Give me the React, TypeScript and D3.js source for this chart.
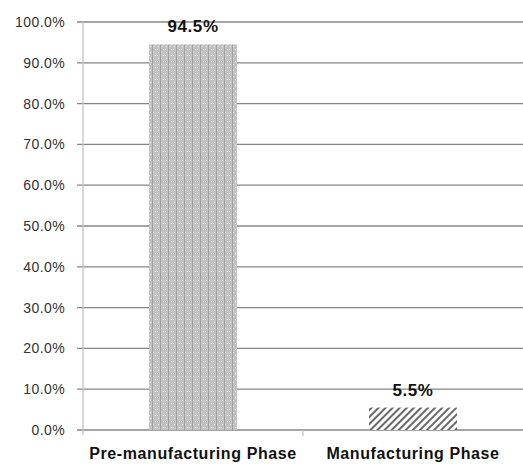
import React from "react";
import * as d3 from "d3";

const categories = ["Pre-manufacturing Phase", "Manufacturing Phase"];
const shares = [94.5, 5.5];
const yTicks = [0, 10, 20, 30, 40, 50, 60, 70, 80, 90, 100];

const W = 523;
const H = 464;
const margin = { left: 83, right: 0, top: 22, bottom: 34 };

export default function App() {
  const x = d3
    .scaleBand<string>()
    .domain(categories)
    .range([margin.left, W - margin.right])
    .paddingInner(0.6)
    .paddingOuter(0.3);
  const y = d3
    .scaleLinear()
    .domain([0, 100])
    .range([H - margin.bottom, margin.top]);
  const fmt = (v: number) => v.toFixed(1) + "%";
  const band = (W - margin.left - margin.right) / categories.length;
  const font = "'Liberation Sans', Arial, sans-serif";

  return (
    <svg
      width={W}
      height={H}
      style={{ position: "absolute", left: 0, top: 0, background: "#fff" }}
    >
      <defs>
        <pattern id="dots" width="8" height="6" patternUnits="userSpaceOnUse">
          <rect width="8" height="6" fill="#c2c2c2" />
          <rect x="0" y="0" width="1" height="6" fill="#a0a0a0" />
          <rect x="3" y="1" width="1" height="1" fill="#f4f4f4" />
          <rect x="6" y="4" width="1" height="1" fill="#f4f4f4" />
          <rect x="1" y="4" width="1" height="1" fill="#e2e2e2" />
          <rect x="5" y="1" width="1" height="1" fill="#e2e2e2" />
        </pattern>
        <pattern
          id="hatch"
          width="5"
          height="5"
          patternUnits="userSpaceOnUse"
          patternTransform="rotate(45)"
        >
          <rect width="5" height="5" fill="#fff" />
          <rect x="0" y="0" width="2" height="5" fill="#6a6a6a" />
        </pattern>
      </defs>

      {/* horizontal gridlines with tick marks */}
      {yTicks.map((t) => (
        <g key={t}>
          <line
            x1={margin.left - 6}
            x2={W - margin.right}
            y1={y(t)}
            y2={y(t)}
            stroke="#868686"
            strokeWidth={1.3}
          />
          <text
            x={margin.left - 18}
            y={y(t)}
            dy="0.35em"
            textAnchor="end"
            fontFamily={font}
            fontSize={14}
            letterSpacing={0.4}
            fill="#333"
          >
            {fmt(t)}
          </text>
        </g>
      ))}

      {/* value axis line */}
      <line
        x1={margin.left}
        x2={margin.left}
        y1={y(100)}
        y2={y(0) + 5}
        stroke="#c4c4c4"
        strokeWidth={1.3}
      />

      {/* category tick marks */}
      {categories.map((c, i) =>
        i > 0 ? (
          <line
            key={c}
            x1={margin.left + band * i}
            x2={margin.left + band * i}
            y1={y(0)}
            y2={y(0) + 6}
            stroke="#c4c4c4"
            strokeWidth={1.3}
          />
        ) : null
      )}

      {/* bars */}
      {categories.map((c, i) => (
        <rect
          key={c}
          x={x(c)!}
          y={y(shares[i])}
          width={x.bandwidth()}
          height={y(0) - y(shares[i])}
          fill={i === 0 ? "url(#dots)" : "url(#hatch)"}
        />
      ))}

      {/* value labels */}
      {categories.map((c, i) => (
        <text
          key={c}
          x={x(c)! + x.bandwidth() / 2}
          y={y(shares[i]) - 12}
          textAnchor="middle"
          fontFamily={font}
          fontWeight="bold"
          fontSize={17}
          letterSpacing={0.6}
          fill="#111"
        >
          {fmt(shares[i])}
        </text>
      ))}

      {/* category labels */}
      {categories.map((c) => (
        <text
          key={c}
          x={x(c)! + x.bandwidth() / 2}
          y={y(0) + 29}
          textAnchor="middle"
          fontFamily={font}
          fontWeight="bold"
          fontSize={16}
          letterSpacing={0.6}
          fill="#111"
        >
          {c}
        </text>
      ))}
    </svg>
  );
}
